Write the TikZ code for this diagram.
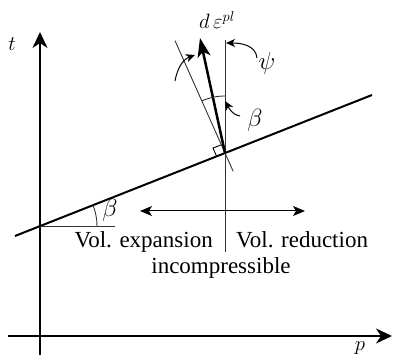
\documentclass[tikz,border=0pt]{standalone}
\usepackage{fontspec}
\setmainfont{Liberation Serif}
\usetikzlibrary{arrows.meta,calc}
\begin{document}
\begin{tikzpicture}[x=1pt,y=1pt,
  axis/.style={line width=1.9pt,-{Stealth[length=16pt,width=15pt,inset=5pt]}},
  thin/.style={line width=0.9pt,black!80},
  yield/.style={line width=2pt},
  flow/.style={line width=2.5pt,-{Stealth[length=19pt,width=13pt,inset=5pt]}},
  dbl/.style={line width=1pt,{Stealth[length=12pt,width=10pt,inset=3pt]}-{Stealth[length=12pt,width=10pt,inset=3pt]}},
  ptr/.style={line width=1pt,-{Stealth[length=9pt,width=8pt,inset=2.5pt]}},
  txt/.style={font=\fontsize{23}{28}\selectfont,inner sep=0pt},
  mlab/.style={font=\fontsize{22}{26}\selectfont,inner sep=0pt},
  glab/.style={font=\fontsize{26}{30}\selectfont,inner sep=0pt}]
\useasboundingbox (0,0) rectangle (394,358);
% axes
\coordinate (tb) at (40,3);
\coordinate (tt) at (40,326);
\coordinate (pl) at (8,22);
\coordinate (pr) at (392,22);
\draw[axis] (tb) -- (tt);
\draw[axis] (pl) -- (pr);
\node[mlab] (tlab) at (12,314) {$t$};
\node[mlab] (plab) at (360,10) {$p$};
% yield line
\coordinate (A) at (15,122);
\coordinate (I) at (225,205);
\coordinate (B) at (372,263);
\draw[yield] (A) -- (B);
\coordinate (P0) at (40,131.9);
\coordinate (H) at (115,131.9);
\draw[thin] (P0) -- (H);
\draw[thin] ($(P0)+(57,0)$) arc[start angle=0,end angle=21.6,radius=57];
\node[glab] (blow) at (110,148) {$\beta$};
% normal and vertical
\coordinate (Ntop) at ($(I)+(114:123)$);
\coordinate (Nbot) at ($(I)+(-66:20)$);
\draw[thin] (Nbot) -- (Ntop);
\coordinate (Vtop) at (225,318);
\coordinate (Vbot) at (225,106);
\draw[thin] (Vbot) -- (Vtop);
% right angle mark
\draw[thin,black] ($(I)+(201.6:9)$) -- ($(I)+(201.6:9)+(114:9)$) -- ($(I)+(114:9)$);
% plastic strain increment
\coordinate (Dtip) at (200,320);
\draw[flow] (I) -- (Dtip);
\node[mlab] (deps) at (217,338) {$d\,\varepsilon^{pl}$};
% beta arc between normal and vertical
\draw[thin] ($(I)+(90:57)$) arc[start angle=90,end angle=114,radius=57];
\coordinate (bs) at (240,242);
\coordinate (be) at (225,257);
\draw[ptr] (bs) to[out=170,in=-60] (be);
\node[glab] (bup) at (255,238) {$\beta$};
% psi
\coordinate (ps) at (257,300);
\coordinate (pe) at (226,315);
\draw[ptr] (ps) to[out=95,in=0] (pe);
\node[glab] (psil) at (267,295) {$\psi$};
% left curved arrow
\coordinate (ls) at (175,277);
\coordinate (le) at (195,303);
\draw[ptr] (ls) to[out=80,in=200] (le);
% double arrow
\coordinate (dl) at (140,147);
\coordinate (dr) at (305,147);
\draw[dbl] (dl) -- (dr);
% texts
\node[txt,anchor=base east] (exp) at (213,110) {Vol. expansion};
\node[txt,anchor=base west] (red) at (236,110) {Vol. reduction};
\node[txt,anchor=base] (inc) at (221,84) {incompressible};
\end{tikzpicture}
\end{document}
